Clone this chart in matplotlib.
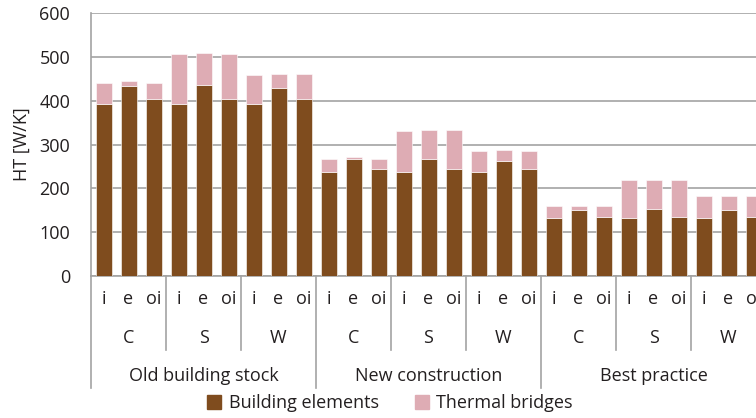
import matplotlib
matplotlib.use("Agg")
import matplotlib.pyplot as plt
import matplotlib.transforms as mtransforms
from matplotlib.patches import Patch

plt.rcParams["font.family"] = ["Open Sans", "DejaVu Sans"]

# data (W/K)
orientations = ["i", "e", "oi"]
climates = ["C", "S", "W"]
standards = ["Old building stock", "New construction", "Best practice"]

elements = [392, 433, 403, 392, 435, 403, 392, 428, 403,
            238, 267, 244, 237, 267, 244, 237, 263, 244,
            132, 150, 135, 132, 152, 135, 132, 150, 135]
totals = [441, 444, 441, 507, 508, 506, 458, 460, 460,
          266, 271, 268, 330, 332, 332, 285, 288, 286,
          159, 160, 159, 218, 219, 218, 182, 183, 182]
bridges = [t - e for t, e in zip(totals, elements)]

BROWN = "#7f4c1e"
PINK = "#deacb4"
GRID = "#a3a3a3"
TXT = "#231f20"
FS = 13

fig = plt.figure(figsize=(7.56, 4.18), dpi=100)
ax = fig.add_axes([91 / 756, 142 / 418, 675 / 756, 263 / 418])

x = list(range(len(elements)))
ax.bar(x, elements, width=0.64, color=BROWN, edgecolor="white", linewidth=0.4, zorder=3)
ax.bar(x, bridges, bottom=elements, width=0.64, color=PINK, edgecolor="white",
       linewidth=0.4, zorder=3)

ax.set_xlim(-0.5, len(x) - 0.5)
ax.set_ylim(0, 600)
ax.set_yticks(range(0, 601, 100))
ax.yaxis.grid(True, color=GRID, linewidth=1.2, zorder=0)
ax.tick_params(axis="y", length=0, pad=15, labelsize=FS, labelcolor=TXT)
ax.set_xticks([])
for side in ["top", "right"]:
    ax.spines[side].set_visible(False)
for side in ["left", "bottom"]:
    ax.spines[side].set_color(GRID)
    ax.spines[side].set_linewidth(1.2)
ax.set_ylabel("HT [W/K]", fontsize=FS, color=TXT, labelpad=6)

# multi-level category axis
trans = mtransforms.blended_transform_factory(ax.transData, ax.transAxes)
ax_h = 263.0
def yfrac(py):
    return (276 - py) / ax_h

for k in range(len(x)):
    ax.text(k, yfrac(299), orientations[k % 3], transform=trans, ha="center",
            va="center", fontsize=FS, color=TXT)
for g in range(9):
    ax.text(g * 3 + 1, yfrac(338), climates[g % 3], transform=trans, ha="center",
            va="center", fontsize=FS, color=TXT)
for s in range(3):
    ax.text(s * 9 + 4, yfrac(376), standards[s], transform=trans, ha="center",
            va="center", fontsize=FS, color=TXT)

for b in range(10):
    xs = b * 3 - 0.5
    low = 388 if b % 3 == 0 else 350
    ax.plot([xs, xs], [0, yfrac(low)], transform=trans, color=GRID,
            linewidth=1.2, clip_on=False)

handles = [Patch(color=BROWN, label="Building elements"),
           Patch(color=PINK, label="Thermal bridges")]
fig.legend(handles=handles, loc="center", bbox_to_anchor=(390 / 756, 1 - 403 / 418),
           ncol=2, frameon=False, fontsize=FS, handlelength=0.8, handleheight=0.8,
           handletextpad=0.4, columnspacing=2.0, labelcolor=TXT)

fig.savefig("out.png", dpi=100)
